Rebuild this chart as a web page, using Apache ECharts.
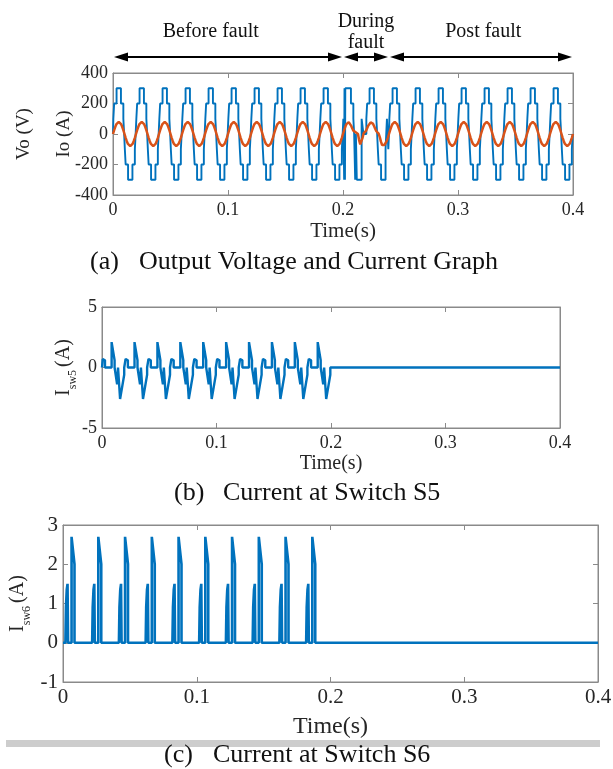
<!DOCTYPE html>
<html>
<head>
<meta charset="utf-8">
<script src="https://cdn.jsdelivr.net/npm/echarts@6/dist/echarts.min.js"></script>
<style>
html,body{margin:0;padding:0;background:#fff;}
#main{width:613px;height:769px;}
</style>
</head>
<body>
<div id="main"></div>
<script>
// shared time axis (s)
var timeTicks = [0, 0.1, 0.2, 0.3, 0.4];
var cycleMs = 20;
var faultStartMs = 200, faultEndMs = 240;

// phases drawn above panel (a)
var phaseNames = ['Before fault', 'During\nfault', 'Post fault'];
var phaseStart = [0, 0.2, 0.24];
var phaseEnd = [0.2, 0.24, 0.4];
var phaseLabelAt = [0.085, 0.22, 0.322];

// (a) 7-level staircase voltage: switching instants (ms into a half cycle) and levels (V)
var vStepMs = [0.3, 1.0, 3.1];
var vLevels = [100, 200, 300];
// voltage inside the fault window, [ms, V]
var vFault = [
  [200.0, 0], [200.3, 0], [200.3, 100], [201.0, 100], [201.0, -300], [201.3, -300],
  [201.3, 300], [201.7, 300], [201.7, -300], [202.0, -300], [202.0, 300], [206.9, 300],
  [206.9, 200], [209.0, 200], [209.0, 100], [209.7, 100], [209.7, 0], [210.6, 0],
  [210.6, -300], [211.2, -300], [211.2, 0], [212.0, 0], [212.0, -300], [216.2, -300],
  [216.2, 100], [217.8, 100], [217.8, 0], [220.3, 0], [220.3, 100], [221.0, 100],
  [221.0, 200], [223.1, 200], [223.1, 300], [226.9, 300], [226.9, 200], [229.0, 200],
  [229.0, 100], [229.7, 100], [229.7, 0], [230.3, 0], [230.3, -100], [231.0, -100],
  [231.0, -200], [233.1, -200], [233.1, -300], [237.0, -300], [237.0, -100], [238.2, -100],
  [238.2, 100], [239.4, 100], [239.4, -100], [240.0, -100], [240.0, 0]
];
// (a) load current, one normal cycle sampled every 1 ms (A)
var ioCycle = [0, 25, 47, 65, 76, 80, 76, 65, 47, 25, 0, -25, -47, -65, -76, -80, -76, -65, -47, -25];
// load current in the fault window, 200..239 ms every 1 ms
var ioFault = [0, 25, 47, 65, 76, 78, 70, 55, 38, 22, 14, 12, 10, 0, -40, -68, -60, -25, 5, 12,
  20, 38, 55, 68, 76, 77, 68, 52, 34, 18, 8, 2, -20, -50, -72, -77, -72, -62, -47, -25];

// (b) switch S5 current over one cycle, [ms, A]
var isw5Cycle = [[0, 0], [0.6, 0], [0.6, 0.7], [2.6, 0.6], [2.6, 0], [8.4, 0], [8.4, 2.1],
  [11.0, 0.6], [11.0, 0], [12.4, 0], [13.2, -1.4], [14.0, 0], [15.6, 0], [15.8, -2.6],
  [19.4, -0.6], [19.4, 0], [20, 0]];
// (c) switch S6 current over one cycle, [ms, A]
var isw6Cycle = [[0, 0], [1.8, 0], [2.2, 0.9], [2.8, 1.35], [3.4, 1.5], [3.8, 1.5], [3.8, 0],
  [6.4, 0], [6.4, 2.7], [7.2, 2.7], [8.6, 2.0], [8.6, 0], [20, 0]];
var switchCycles = 10;

var serif = 'Liberation Serif';
var boxColor = '#8a8a8a';
var textColor = '#262626';

function buildVoltage() {
  var out = [];
  for (var k = 0; k < 20; k++) {
    var t0 = k * cycleMs;
    if (t0 >= faultStartMs && t0 < faultEndMs) {
      if (t0 == faultStartMs) vFault.forEach(function (p) { out.push([p[0] / 1000, p[1]]); });
      continue;
    }
    [1, -1].forEach(function (sign, h) {
      var s = t0 + h * cycleMs / 2;
      var edges = [vStepMs[0], vStepMs[1], vStepMs[2],
        cycleMs / 2 - vStepMs[2], cycleMs / 2 - vStepMs[1], cycleMs / 2 - vStepMs[0]];
      var after = [vLevels[0], vLevels[1], vLevels[2], vLevels[1], vLevels[0], 0];
      var prev = 0;
      out.push([s / 1000, 0]);
      edges.forEach(function (e, i) {
        out.push([(s + e) / 1000, prev * sign]);
        out.push([(s + e) / 1000, after[i] * sign]);
        prev = after[i];
      });
    });
  }
  out.push([0.4, 0]);
  return out;
}

function buildCurrent() {
  var out = [];
  for (var k = 0; k < 20; k++) {
    var t0 = k * cycleMs;
    var src = (t0 >= faultStartMs && t0 < faultEndMs) ? ioFault.slice((t0 - faultStartMs), (t0 - faultStartMs) + cycleMs) : ioCycle;
    src.forEach(function (v, i) { out.push([(t0 + i) / 1000, v]); });
  }
  out.push([0.4, 0]);
  return out;
}

function buildSwitch(cycle) {
  var out = [];
  for (var k = 0; k < switchCycles; k++) {
    cycle.forEach(function (p) { out.push([(k * cycleMs + p[0]) / 1000, p[1]]); });
  }
  out.push([0.4, 0]);
  return out;
}

var grids = [
  {left: 113, top: 73, width: 460, height: 122, tick: 18, name: 21, gap: 6, nameGap: 26, yMin: -400, yMax: 400, yStep: 200},
  {left: 102, top: 307, width: 458, height: 121, tick: 18, name: 20, gap: 6, nameGap: 26, yMin: -5, yMax: 5, yStep: 5},
  {left: 63, top: 525, width: 535, height: 157, tick: 21, name: 24, gap: 5, nameGap: 33, yMin: -1, yMax: 3, yStep: 1}
];
var yNames = [
  {text: 'Vo (V)\nIo (A)', gap: 29},
  {text: '{b|I}{s|sw5}{b|(A)}', gap: 26},
  {text: '{b|I}{s|sw6}{b|(A)}', gap: 33}
];

var xAxes = [], yAxes = [];
grids.forEach(function (g, i) {
  var tickStyle = {show: true, inside: true, length: 5, lineStyle: {color: boxColor}};
  var lineStyle = {show: true, onZero: false, lineStyle: {color: boxColor, width: 1}};
  xAxes.push({
    gridIndex: i, type: 'value', min: timeTicks[0], max: timeTicks[timeTicks.length - 1], interval: 0.1,
    axisLine: lineStyle, axisTick: tickStyle, splitLine: {show: false},
    axisLabel: {fontFamily: serif, fontSize: g.tick, color: textColor, margin: g.gap,
      formatter: function (v) { return String(+v.toFixed(1)); }},
    name: 'Time(s)', nameLocation: 'middle', nameGap: g.nameGap, nameMoveOverlap: false,
    nameTextStyle: {fontFamily: serif, fontSize: g.name, color: textColor}
  });
  xAxes.push({
    gridIndex: i, type: 'value', position: 'top', min: 0, max: 0.4, interval: 0.1,
    axisLine: lineStyle, axisTick: tickStyle, axisLabel: {show: false}, splitLine: {show: false}
  });
  var rich = {
    b: {fontFamily: serif, fontSize: 20, color: textColor, verticalAlign: 'top', lineHeight: 22},
    s: {fontFamily: serif, fontSize: 12, color: textColor, verticalAlign: 'top', lineHeight: 12,
      padding: [13, 3, 0, 0]}
  };
  yAxes.push({
    gridIndex: i, type: 'value', min: g.yMin, max: g.yMax, interval: g.yStep,
    axisLine: lineStyle, axisTick: tickStyle, splitLine: {show: false},
    axisLabel: {fontFamily: serif, fontSize: g.tick, color: textColor, margin: 5},
    name: yNames[i].text, nameLocation: 'middle', nameGap: yNames[i].gap, nameRotate: 90,
    nameMoveOverlap: false,
    nameTextStyle: {fontFamily: serif, fontSize: 19, color: textColor, lineHeight: 40, rich: rich}
  });
  yAxes.push({
    gridIndex: i, type: 'value', position: 'right', min: g.yMin, max: g.yMax, interval: g.yStep,
    axisLine: lineStyle, axisTick: tickStyle, axisLabel: {show: false}, splitLine: {show: false}
  });
});

var lineSeries = function (name, xi, data, color, width) {
  return {
    name: name, type: 'line', xAxisIndex: xi, yAxisIndex: xi, data: data,
    showSymbol: false, symbol: 'none', lineStyle: {color: color, width: width}, z: 3
  };
};

var chart = echarts.init(document.getElementById('main'));
chart.setOption({
  animation: false,
  backgroundColor: '#ffffff',
  grid: grids.map(function (g) {
    return {left: g.left, top: g.top, width: g.width, height: g.height, show: true,
      containLabel: false, outerBoundsMode: 'none',
      borderColor: boxColor, borderWidth: 1, backgroundColor: '#fff'};
  }),
  xAxis: xAxes,
  yAxis: yAxes,
  series: [
    lineSeries('Vo', 0, buildVoltage(), '#0072BD', 1.9),
    lineSeries('Io', 0, buildCurrent(), '#D95319', 2.5),
    lineSeries('Isw5', 2, buildSwitch(isw5Cycle), '#0072BD', 2.4),
    lineSeries('Isw6', 4, buildSwitch(isw6Cycle), '#0072BD', 2.6)
  ]
});

// annotations: phase arrows, captions and the page rule
var graphics = [];
var arrowY = grids[0].top - 16;
function arrowHead(x, y, dir) {
  return {type: 'polygon', shape: {points: [[x, y], [x - dir * 14, y - 4.5], [x - dir * 14, y + 4.5]]},
    style: {fill: '#000'}};
}
phaseStart.forEach(function (t, i) {
  var x1 = chart.convertToPixel({xAxisIndex: 0}, t) + 1;
  var x2 = chart.convertToPixel({xAxisIndex: 0}, phaseEnd[i]) - 1;
  graphics.push({type: 'line', shape: {x1: x1 + 6, y1: arrowY, x2: x2 - 6, y2: arrowY},
    style: {stroke: '#000', lineWidth: 2}});
  graphics.push(arrowHead(x1, arrowY, -1));
  graphics.push(arrowHead(x2, arrowY, 1));
  var lx = chart.convertToPixel({xAxisIndex: 0}, phaseLabelAt[i]);
  graphics.push({type: 'text', x: lx, y: arrowY - 25,
    style: {text: phaseNames[i], font: '20px "Liberation Serif"', fill: '#111',
      align: 'center', verticalAlign: 'middle', lineHeight: 21}});
});

var captions = [
  {tag: '(a)', text: 'Output Voltage and Current Graph', x: 90, x2: 139, y: 262},
  {tag: '(b)', text: 'Current at Switch S5', x: 174, x2: 223, y: 493},
  {tag: '(c)', text: 'Current at Switch S6', x: 164, x2: 213, y: 755}
];
graphics.push({type: 'rect', shape: {x: 6, y: 740, width: 594, height: 7}, style: {fill: '#cdcdcd'}});
captions.forEach(function (c) {
  graphics.push({type: 'text', x: c.x, y: c.y,
    style: {text: c.tag, font: '26px "Liberation Serif"', fill: '#111', verticalAlign: 'middle'}});
  graphics.push({type: 'text', x: c.x2, y: c.y,
    style: {text: c.text, font: '26px "Liberation Serif"', fill: '#111', verticalAlign: 'middle'}});
});
chart.setOption({graphic: graphics});
</script>
</body>
</html>
